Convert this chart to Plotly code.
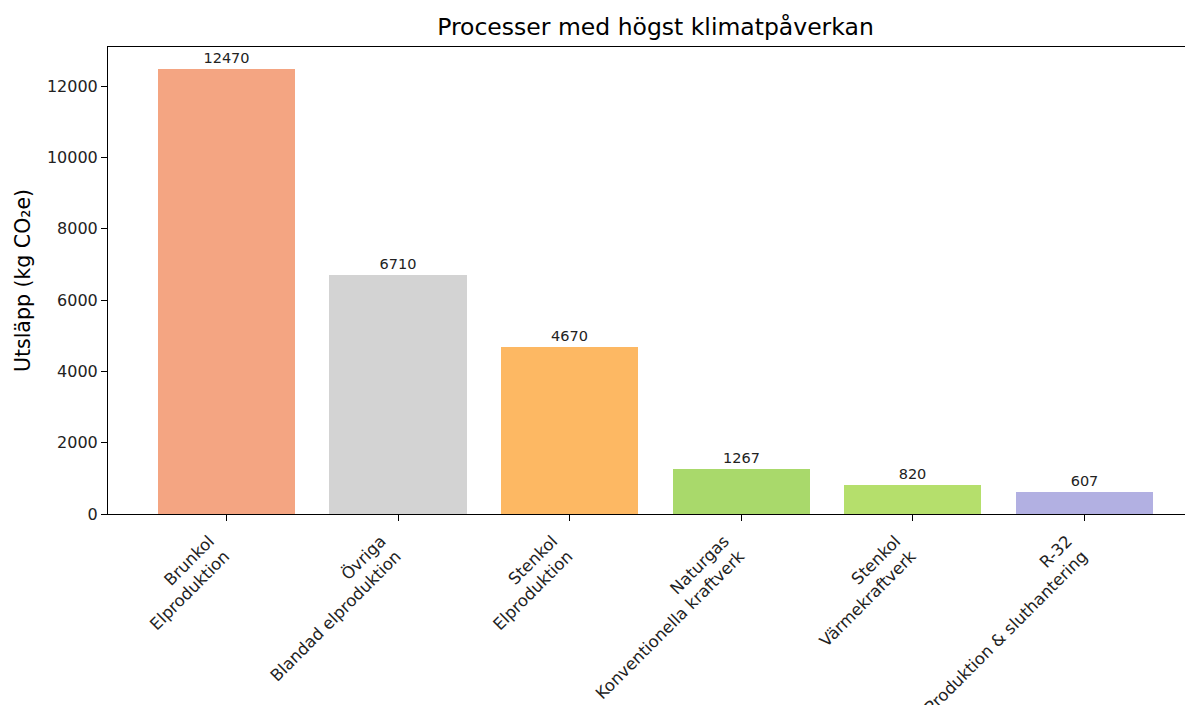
import plotly.graph_objects as go

categories = [
    "Brunkol<br>Elproduktion",
    "Övriga<br>Blandad elproduktion",
    "Stenkol<br>Elproduktion",
    "Naturgas<br>Konventionella kraftverk",
    "Stenkol<br>Värmekraftverk",
    "R-32<br>Produktion & sluthantering",
]
values = [12470, 6710, 4670, 1267, 820, 607]
colors = ["#f4a582", "#d3d3d3", "#fdb863", "#a9d96b", "#b5df6c", "#b2b0e2"]
y_ticks = [0, 2000, 4000, 6000, 8000, 10000, 12000]

x_pos = list(range(len(values)))

fig = go.Figure(
    go.Bar(
        x=x_pos,
        y=values,
        width=0.8,
        marker=dict(color=colors, line=dict(width=0)),
        text=[str(v) for v in values],
        textposition="outside",
        textfont=dict(family="DejaVu Sans", size=14.5, color="#222"),
        cliponaxis=False,
    )
)

fig.update_layout(
    width=1185,
    height=697,
    paper_bgcolor="white",
    plot_bgcolor="white",
    margin=dict(l=100, r=0, t=39, b=191, autoexpand=False),
    showlegend=False,
    font=dict(family="DejaVu Sans", color="#000"),
    title=dict(
        text="Processer med högst klimatpåverkan",
        x=0.5046,
        xref="paper",
        xanchor="center",
        y=1 - 19 / 697,
        yanchor="middle",
        font=dict(size=23.5, family="DejaVu Sans", color="#000"),
    ),
    bargap=0,
)

fig.update_xaxes(
    range=[-0.69, 5.633],
    tickmode="array",
    tickvals=x_pos,
    ticktext=categories,
    tickangle=-45,
    ticks="outside",
    ticklen=6,
    tickcolor="#000",
    ticklabelshift=-17,
    ticklabelstandoff=4,
    tickfont=dict(size=16.5, family="DejaVu Sans", color="#222"),
    showline=True,
    linecolor="#000",
    linewidth=1,
    mirror=True,
    showgrid=False,
    zeroline=False,
)
fig.update_yaxes(
    range=[0, 13093.5],
    tickmode="array",
    tickvals=y_ticks,
    ticktext=[str(t) for t in y_ticks],
    ticks="outside",
    ticklen=6,
    tickcolor="#000",
    tickfont=dict(size=16, family="DejaVu Sans", color="#222"),
    title=dict(text="Utsläpp (kg CO₂e)", font=dict(size=20.5, family="DejaVu Sans", color="#000"), standoff=10),
    showline=True,
    linecolor="#000",
    linewidth=1,
    mirror=False,
    showgrid=False,
    zeroline=False,
)

fig.write_html("out.html")
